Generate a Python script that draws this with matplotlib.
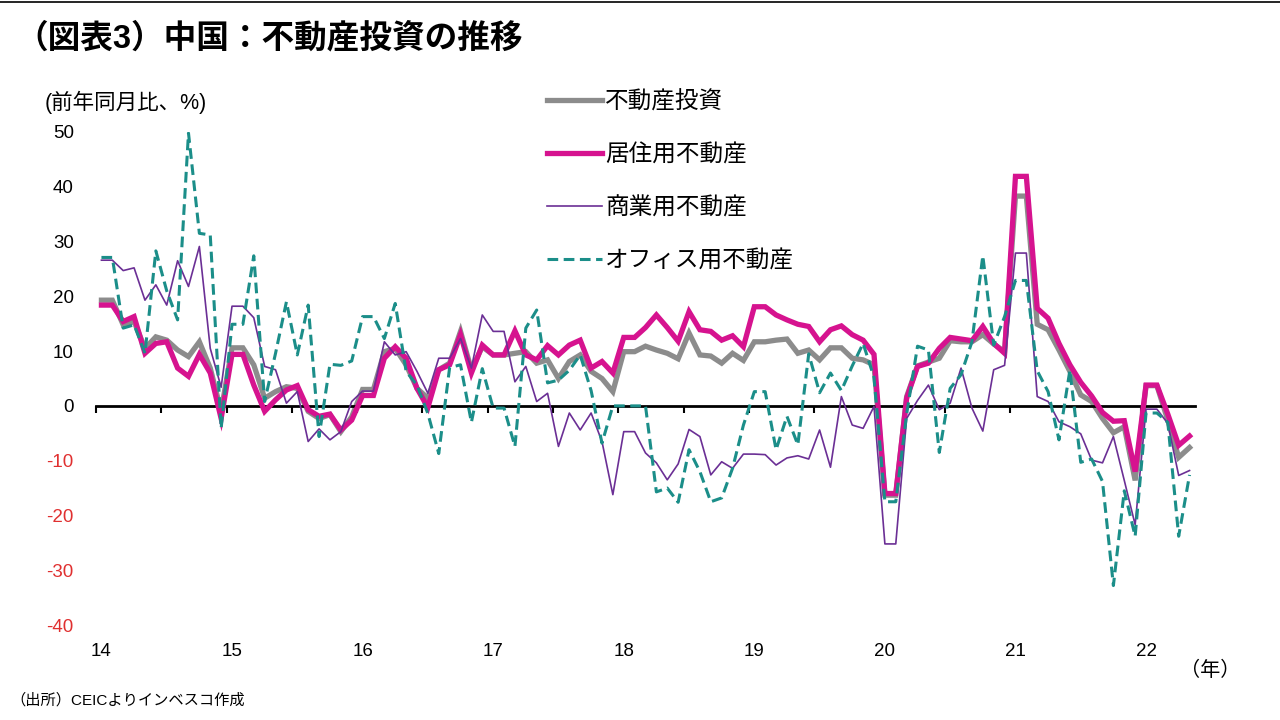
import numpy as np
import matplotlib
matplotlib.use("Agg")
import matplotlib.pyplot as plt
from matplotlib.lines import Line2D

plt.rcParams['font.family'] = ['Liberation Sans', 'Noto Sans CJK JP', 'DejaVu Sans']
plt.rcParams['axes.unicode_minus'] = False

# monthly, Jan 2014 - May 2022 (Jan = Jan-Feb cumulative)
years = ["14", "15", "16", "17", "18", "19", "20", "21", "22"]

total = [19.3, 19.3, 14.8, 15.4, 10.5, 12.6, 12.0, 10.2, 9.0, 11.7, 6.9, -1.0,
         10.6, 10.6, 7.5, 1.4, 2.6, 3.5, 3.2, -1.0, -2.3, -1.6, -4.7, -2.0,
         3.0, 3.0, 9.9, 10.5, 7.5, 3.2, 1.4, 6.6, 7.8, 13.6, 6.6, 10.8,
         9.3, 9.3, 9.6, 9.9, 7.8, 8.4, 5.0, 8.1, 9.3, 6.3, 5.0, 2.6,
         9.9, 9.9, 10.9, 10.2, 9.6, 8.6, 13.3, 9.3, 9.1, 7.8, 9.6, 8.3,
         11.7, 11.7, 12.0, 12.2, 9.6, 10.2, 8.4, 10.6, 10.6, 8.7, 8.4, 7.5,
         -16.3, -16.3, 1.7, 7.3, 8.0, 8.7, 11.9, 11.7, 11.7, 13.0, 11.3, 9.9,
         38.3, 38.3, 14.9, 13.9, 10.2, 6.3, 2.0, 0.8, -2.3, -4.9, -3.8, -13.6,
         3.7, 3.7, -2.6, -9.4, -7.6]

residential = [18.4, 18.4, 15.4, 16.3, 9.6, 11.4, 11.7, 6.9, 5.4, 9.4, 6.0, -2.3,
               9.4, 9.4, 3.8, -1.0, 1.1, 2.9, 3.7, -0.7, -1.9, -1.5, -4.4, -2.6,
               1.9, 1.9, 8.7, 10.8, 8.7, 3.2, -0.3, 6.6, 7.5, 13.0, 6.0, 11.1,
               9.3, 9.3, 13.7, 9.3, 8.4, 11.0, 9.3, 11.1, 12.0, 6.9, 8.1, 6.0,
               12.5, 12.5, 14.3, 16.6, 14.3, 11.8, 17.2, 13.9, 13.6, 12.0, 12.8, 10.8,
               18.1, 18.1, 16.6, 15.7, 14.9, 14.5, 11.7, 13.9, 14.6, 13.0, 12.0, 9.4,
               -16.0, -16.0, 1.4, 7.2, 7.8, 10.5, 12.5, 12.2, 11.9, 14.5, 11.4, 9.6,
               41.9, 41.9, 17.8, 16.0, 11.4, 7.5, 4.3, 1.8, -1.2, -2.8, -2.7, -12.0,
               3.8, 3.8, -1.5, -7.2, -5.5]

commercial = [26.6, 26.6, 24.7, 25.2, 19.3, 22.1, 18.4, 26.5, 21.8, 29.1, 10.5, 3.4,
              18.2, 18.2, 16.1, 7.2, 6.6, 0.5, 2.6, -6.5, -4.2, -6.2, -4.7, 0.8,
              2.7, 2.7, 11.7, 9.3, 9.9, 6.3, 2.3, 8.7, 8.7, 12.3, 6.9, 16.6,
              13.6, 13.6, 4.4, 7.2, 0.8, 2.3, -7.4, -1.3, -4.4, -1.3, -6.5, -16.2,
              -4.7, -4.7, -8.6, -10.4, -13.5, -10.6, -4.3, -5.6, -12.6, -10.2, -11.4, -8.8,
              -8.8, -8.9, -10.8, -9.5, -9.1, -9.7, -4.4, -11.2, 1.7, -3.5, -4.1, -0.1,
              -25.2, -25.2, -2.3, 1.0, 3.8, -0.7, 0.5, 6.9, -0.4, -4.6, 6.6, 7.4,
              27.9, 27.9, 1.7, 0.8, -2.9, -3.8, -5.1, -9.9, -10.4, -5.6, -13.6, -21.7,
              -0.6, -0.6, -3.2, -12.7, -11.8]

office = [27.1, 27.1, 14.2, 14.8, 9.6, 28.3, 21.0, 15.7, 49.8, 31.5, 31.2, -4.1,
          14.9, 14.9, 27.4, 0.8, 9.6, 19.0, 9.3, 18.4, -5.6, 7.6, 7.4, 8.2,
          16.3, 16.3, 12.3, 18.7, 6.3, 3.8, -1.4, -8.7, 7.0, 7.5, -3.0, 6.8,
          -0.4, -0.4, -7.4, 14.2, 17.5, 4.2, 4.7, 6.5, 9.3, 2.8, -6.8, 0.0,
          0.0, 0.0, 0.0, -15.7, -15.0, -17.6, -8.0, -12.0, -17.5, -16.8, -11.4, -3.5,
          2.6, 2.6, -8.0, -1.9, -7.1, 9.5, 2.4, 6.0, 2.8, 7.3, 11.4, 5.2,
          -17.5, -17.5, -1.5, 10.9, 10.2, -8.5, 3.2, 5.7, 11.7, 27.4, 11.1, 16.3,
          22.9, 22.9, 6.4, 2.6, -6.2, 6.5, -10.3, -9.7, -13.8, -32.8, -15.5, -23.8,
          -1.3, -1.3, -3.0, -23.8, -12.6]

names = ["不動産投資", "居住用不動産", "商業用不動産", "オフィス用不動産"]
colors = ["#8c8c8c", "#d6138f", "#6b2f95", "#1b8e89"]

fig = plt.figure(figsize=(12.8, 7.2), dpi=100)
ax = fig.add_axes([96/1280, 1-625/720, 1099/1280, 493/720])

x = np.arange(len(total))
ax.plot(x, total, color=colors[0], lw=3.8, solid_joinstyle='miter', zorder=2)
ax.plot(x, residential, color=colors[1], lw=3.8, solid_joinstyle='miter', zorder=3)
ax.plot(x, commercial, color=colors[2], lw=1.2, zorder=4)
ax.plot(x, office, color=colors[3], lw=2.2, ls=(0, (3.5, 1.8)), zorder=5)

ax.set_xlim(-0.5, len(total) - 0.5)
ax.set_ylim(-40, 50)
ax.set_yticks(np.arange(-40, 51, 10))
ax.tick_params(axis='y', length=0, labelsize=13.5, pad=16)
for t, v in zip(ax.get_yticklabels(), np.arange(-40, 51, 10)):
    t.set_color('#e03030' if v < 0 else 'black')

ax.set_xticks(np.arange(-0.5, len(total), 6))
ax.set_xticklabels([])
ax.tick_params(axis='x', direction='out', length=5, width=1.5)
ax.spines['bottom'].set_position(('data', 0))
ax.spines['bottom'].set_linewidth(2)
for s in ['top', 'right', 'left']:
    ax.spines[s].set_visible(False)

for k, lab in enumerate(years):
    ax.text(12 * k, -43.2, lab, ha='center', va='top', fontsize=13.5)
fig.text(1180/1280, 1-670/720, "（年）", ha='left', va='center', fontsize=14.5)

handles = [Line2D([], [], color=colors[0], lw=3.8),
           Line2D([], [], color=colors[1], lw=3.8),
           Line2D([], [], color=colors[2], lw=1.2),
           Line2D([], [], color=colors[3], lw=2.2, ls=(0, (3.5, 1.8)))]
fig.legend(handles, names, loc='upper left', bbox_to_anchor=(526/1280, 1-70/720),
           frameon=False, fontsize=17, handlelength=2.3, handletextpad=0.15,
           labelspacing=1.3)

fig.text(15/1280, 1-39/720, "（図表3）中国：不動産投資の推移", fontsize=23.5,
         fontweight='bold', va='center', ha='left')
fig.text(45/1280, 1-102/720, "(前年同月比、%)", fontsize=15.5, va='center', ha='left')
fig.text(10/1280, 1-700/720, "（出所）CEICよりインベスコ作成", fontsize=11,
         va='center', ha='left')
fig.add_artist(Line2D([0, 1], [1-2/720, 1-2/720], color='black', lw=1.2,
                      transform=fig.transFigure))

fig.savefig("out.png", dpi=100)
